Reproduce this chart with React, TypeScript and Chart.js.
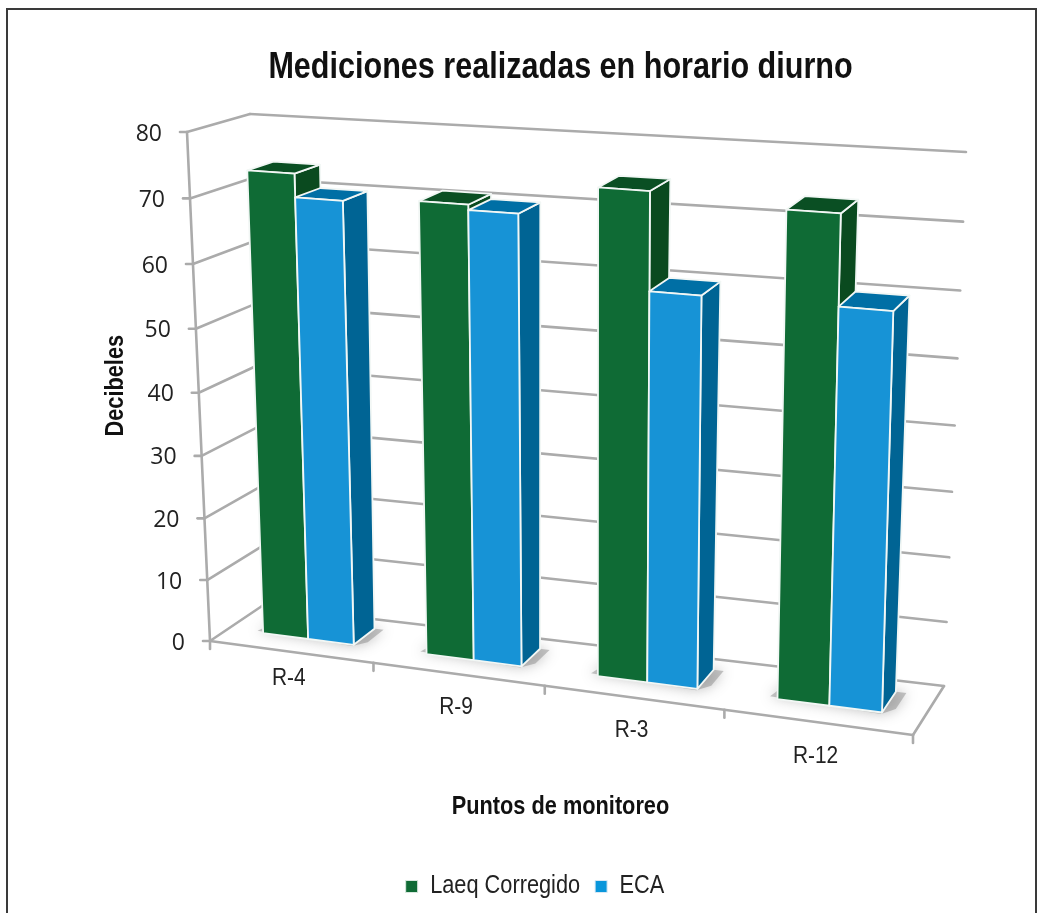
import React, { useEffect, useRef } from "react";
import { Chart, registerables } from "chart.js";

Chart.register(...registerables);

const categories = ["R-4", "R-9", "R-3", "R-12"];
const laeqValues = [73.6, 70.8, 74.7, 73.4];
const ecaValues = [70, 70, 60, 60];
const seriesNames = ["Laeq Corregido", "ECA"];
const yTickStep = 10;
const yMax = 80;

type P = [number, number];
const FRONT_TL: P = [187, 132];
const FRONT_BL: P = [210, 641];
const FRONT_TR: P = [928, 185];
const FRONT_BR: P = [913, 735];
const BACK_TL: P = [250, 114];
const BACK_BL: P = [262, 606];
const BACK_TR: P = [966, 152];
const BACK_BR: P = [944, 686];
const BAR_W0 = 0.35;
const BAR_W1 = 0.78;
const X_LABEL_DROP = [27, 33, 33, 34];
const NARROW = '"Liberation Sans", sans-serif';
const GRID = "#ABABAB";

const lerp = (a: P, b: P, t: number): P => [a[0] + (b[0] - a[0]) * t, a[1] + (b[1] - a[1]) * t];
const warpU = (u: number) => u / (1 + 0.1 * (1 - u));
const warpV = (v: number) => {
  const t = 1 - v;
  return 1 - (t * 1.05) / (1 + 0.05 * t);
};
const project = (u: number, v: number, w: number): P => {
  const uu = warpU(u);
  const vv = warpV(v);
  const f = lerp(lerp(FRONT_BL, FRONT_BR, uu), lerp(FRONT_TL, FRONT_TR, uu), vv);
  const b = lerp(lerp(BACK_BL, BACK_BR, uu), lerp(BACK_TL, BACK_TR, uu), vv);
  return lerp(f, b, w);
};

const poly = (ctx: CanvasRenderingContext2D, pts: P[], fill: string | null, stroke: string | null, lw = 1.8) => {
  ctx.beginPath();
  pts.forEach((p, i) => (i ? ctx.lineTo(p[0], p[1]) : ctx.moveTo(p[0], p[1])));
  ctx.closePath();
  if (fill) {
    ctx.fillStyle = fill;
    ctx.fill();
  }
  if (stroke) {
    ctx.strokeStyle = stroke;
    ctx.lineWidth = lw;
    ctx.lineJoin = "round";
    ctx.stroke();
  }
};
const seg = (ctx: CanvasRenderingContext2D, a: P, b: P) => {
  ctx.beginPath();
  ctx.moveTo(a[0], a[1]);
  ctx.lineTo(b[0], b[1]);
  ctx.stroke();
};

// The reference text is a condensed Arial, which is not installed: Liberation Sans is
// narrowed horizontally, both when it is drawn and when Chart.js measures it.
const condense = (ctx: any) => {
  const fill = ctx.fillText.bind(ctx);
  const measure = ctx.measureText.bind(ctx);
  const factor = () => {
    if (!ctx.font.includes("Liberation")) return 1;
    return parseFloat(ctx.font.match(/([\d.]+)px/)[1]) > 30 ? 0.826 : 0.87;
  };
  ctx.fillText = (t: string, x: number, y: number) => {
    const k = factor();
    ctx.save();
    ctx.translate(x, y);
    ctx.scale(k, 1);
    fill(t, 0, 0);
    ctx.restore();
  };
  ctx.measureText = (t: string) => {
    const m = measure(t);
    return { width: m.width * factor(), actualBoundingBoxAscent: m.actualBoundingBoxAscent, actualBoundingBoxDescent: m.actualBoundingBoxDescent };
  };
};

const shades = [
  { front: "#0F6B35", side: "#0A4A1F", top: "#0A4F23" },
  { front: "#1793D6", side: "#006494", top: "#006FA5" },
];

const scene3d = {
  id: "scene3d",
  beforeDraw(chart: any) {
    const { ctx } = chart;
    ctx.save();
    ctx.fillStyle = "#fff";
    ctx.fillRect(0, 0, 1044, 913);
    ctx.strokeStyle = "#3A3A3A";
    ctx.lineWidth = 2;
    ctx.strokeRect(7, 9, 1029, 930);
    ctx.restore();
  },
  beforeDatasetsDraw(chart: any) {
    const { ctx, chartArea: ca, scales } = chart;
    const toU = (px: number) => (px - ca.left) / ca.width;
    const toV = (py: number) => (ca.bottom - py) / ca.height;
    const xS = scales.x;
    const yS = scales.y;
    const n = categories.length;
    ctx.save();

    // Walls and floor outline
    ctx.strokeStyle = GRID;
    ctx.lineWidth = 2.6;
    ctx.lineCap = "round";
    yS.ticks.forEach((t: any) => {
      const v = toV(yS.getPixelForValue(t.value));
      const a = project(0, v, 0);
      seg(ctx, [a[0] - 7, a[1]], a);
      seg(ctx, a, project(0, v, 1));
      seg(ctx, project(0, v, 1), project(1, v, 1));
    });
    seg(ctx, project(0, 1, 0), project(0, 0, 0));
    seg(ctx, project(0, 0, 0), project(1, 0, 0));
    seg(ctx, project(1, 0, 0), project(1, 0, 1));
    for (let i = 0; i <= n; i++) {
      const a = project(i / n, 0, 0);
      seg(ctx, a, [a[0], a[1] + 8]);
    }

    // Tick labels
    ctx.fillStyle = "#222";
    ctx.font = '23px "Open Sans"';
    ctx.textAlign = "right";
    ctx.textBaseline = "middle";
    yS.ticks.forEach((t: any) => {
      const a = project(0, toV(yS.getPixelForValue(t.value)), 0);
      ctx.fillText(String(t.value), a[0] - 25, a[1] + 2);
    });
    ctx.font = `24px ${NARROW}`;
    ctx.textAlign = "center";
    categories.forEach((_, i) => {
      const a = project(toU(xS.getPixelForValue(i)), 0, 0);
      ctx.fillText(xS.getLabelForValue(i), a[0] - 2, a[1] + X_LABEL_DROP[i]);
    });

    // Bars
    const m0 = chart.getDatasetMeta(0).data;
    const m1 = chart.getDatasetMeta(1).data;
    categories.forEach((_, i) => {
      const u0 = toU(m0[i].x - m0[i].width / 2);
      const u1 = toU(m1[i].x + m1[i].width / 2);
      ctx.save();
      ctx.shadowColor = "rgba(90,90,90,0.75)";
      ctx.shadowBlur = 13;
      poly(
        ctx,
        [
          project(u0 - 0.012, 0, BAR_W0 + 0.04),
          project(u1, 0, BAR_W0 - 0.03),
          project(u1 + 0.014, 0, BAR_W0 + 0.1),
          project(u1 + 0.014, 0, BAR_W1),
          project(u0, 0, BAR_W1),
        ],
        "rgba(140,140,140,0.5)",
        null
      );
      ctx.restore();
      [m0[i], m1[i]].forEach((bar: any, s: number) => {
        const a = toU(bar.x - bar.width / 2);
        const b = toU(bar.x + bar.width / 2);
        const top = toV(bar.y);
        const base = toV(bar.base);
        const c = shades[s];
        const o = "#F2F7F5";
        poly(ctx, [project(b, base, BAR_W0), project(b, base, BAR_W1), project(b, top, BAR_W1), project(b, top, BAR_W0)], c.side, o);
        poly(ctx, [project(a, top, BAR_W0), project(b, top, BAR_W0), project(b, top, BAR_W1), project(a, top, BAR_W1)], c.top, o);
        poly(ctx, [project(a, base, BAR_W0), project(b, base, BAR_W0), project(b, top, BAR_W0), project(a, top, BAR_W0)], c.front, o);
      });
    });
    ctx.restore();
    return false;
  },
};

export default function App() {
  const ref = useRef<HTMLCanvasElement>(null);
  useEffect(() => {
    const canvas = ref.current as HTMLCanvasElement;
    condense(canvas.getContext("2d"));
    const chart = new Chart(canvas, {
      type: "bar",
      data: {
        labels: categories,
        datasets: [
          { label: seriesNames[0], data: laeqValues, backgroundColor: "#0F6B35", borderColor: "#D8E8DE", borderWidth: 1 },
          { label: seriesNames[1], data: ecaValues, backgroundColor: "#0996DB", borderColor: "#D8E8F4", borderWidth: 1 },
        ],
      },
      options: {
        responsive: false,
        animation: false,
        devicePixelRatio: 1,
        categoryPercentage: 0.56,
        barPercentage: 1,
        layout: { padding: { left: 91, right: 65, top: 46, bottom: 4 } },
        plugins: {
          tooltip: { enabled: false },
          title: {
            display: true,
            text: "Mediciones realizadas en horario diurno",
            color: "#111",
            fullSize: false,
            font: { family: NARROW, size: 37, weight: "bold" },
            padding: { top: 0, bottom: 26 },
          },
          legend: {
            position: "bottom",
            labels: {
              boxWidth: 12,
              boxHeight: 12,
              color: "#222",
              padding: 15,
              font: { family: NARROW, size: 25 },
            },
          },
        },
        scales: {
          x: {
            display: true,
            grid: { display: false },
            border: { display: false },
            ticks: { display: false },
            title: {
              display: true,
              text: "Puntos de monitoreo",
              color: "#111",
              font: { family: NARROW, size: 25, weight: "bold" },
              padding: { top: 129, bottom: 37 },
            },
          },
          y: {
            display: true,
            min: 0,
            max: yMax,
            ticks: { display: false, stepSize: yTickStep },
            grid: { display: false },
            border: { display: false },
            title: {
              display: true,
              text: "Decibeles",
              color: "#111",
              font: { family: NARROW, size: 25, weight: "bold" },
              padding: { top: 10, bottom: 3 },
            },
          },
        },
      } as any,
      plugins: [scene3d],
    });
    return () => chart.destroy();
  }, []);
  return (
    <div style={{ position: "fixed", left: 0, top: 0, width: 1044, height: 913, overflow: "hidden", background: "#fff" }}>
      <canvas ref={ref} width={1044} height={913} style={{ display: "block" }} />
    </div>
  );
}
